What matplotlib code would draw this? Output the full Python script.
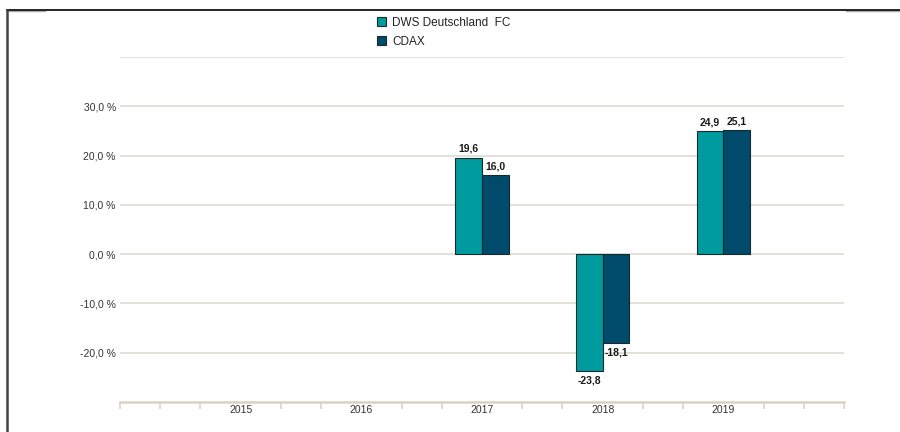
import matplotlib
matplotlib.use("Agg")
import matplotlib.pyplot as plt
import numpy as np
from matplotlib.lines import Line2D
from matplotlib import font_manager as fm

plt.rcParams['font.family'] = ['Liberation Sans', 'DejaVu Sans']

years = [2015, 2016, 2017, 2018, 2019]
fund = [np.nan, np.nan, 19.6, -23.8, 24.9]
cdax = [np.nan, np.nan, 16.0, -18.1, 25.1]
series_names = ["DWS Deutschland  FC", "CDAX"]
yticks = [-20, -10, 0, 10, 20, 30]

c_fund = "#009b9e"
c_cdax = "#004a6c"
grid_c = "#dedbd3"
axis_c = "#d8d2c4"

# find a non-narrow bold Liberation Sans file
bold_fp = None
for f in fm.fontManager.ttflist:
    fn = f.fname.lower()
    if f.name == 'Liberation Sans' and 'narrow' not in fn and 'bold' in fn and 'italic' not in fn:
        bold_fp = fm.FontProperties(fname=f.fname, size=7.5)
        break
if bold_fp is None:
    bold_fp = fm.FontProperties(family=['Liberation Sans', 'DejaVu Sans'], weight='bold', size=7.5)

fig = plt.figure(figsize=(9, 4.32), dpi=100)
ax = fig.add_axes([120/900, 1-402/432, (844-120)/900, (402-57)/432])

x = np.array(years, dtype=float)
w = 0.22
b1 = ax.bar(x - w/2, fund, w, color=c_fund, edgecolor="#1a2a2a", linewidth=0.8,
            label=series_names[0], zorder=3)
b2 = ax.bar(x + w/2, cdax, w, color=c_cdax, edgecolor="#1a2a2a", linewidth=0.8,
            label=series_names[1], zorder=3)

def fmt(v):
    return f"{v:.1f}".replace('.', ',')

for xs, vals in ((x - w/2, fund), (x + w/2, cdax)):
    for xi, v in zip(xs, vals):
        if np.isnan(v):
            continue
        if v >= 0:
            ax.annotate(fmt(v), (xi, v), xytext=(0, 3), textcoords="offset points",
                        ha="center", va="bottom", fontproperties=bold_fp, color="#1a1a1a")
        else:
            ax.annotate(fmt(v), (xi, v), xytext=(0, -3), textcoords="offset points",
                        ha="center", va="top", fontproperties=bold_fp, color="#1a1a1a")

ax.set_xlim(2014, 2020)
ax.set_ylim(-30, 40)

for g in yticks + [40]:
    ax.axhline(g, color=grid_c, linewidth=1.2, zorder=1)

ax.set_yticks(yticks)
ax.set_yticklabels([f"{t:.1f}".replace('.', ',') + " %" for t in yticks])
ax.tick_params(axis='y', length=0, pad=3, labelsize=7.5, labelcolor="#333333")

ax.set_xticks(years)
ax.set_xticklabels([str(y) for y in years])
minor = [2014 + k/3 for k in range(0, 19) if k % 3 != 0] + [2014, 2020]
ax.set_xticks(minor, minor=True)
ax.tick_params(axis='x', which='major', length=0, pad=2, labelsize=7.5, labelcolor="#333333")
ax.tick_params(axis='x', which='minor', length=5, width=1.2, color=axis_c)

for s in ['top', 'right', 'left']:
    ax.spines[s].set_visible(False)
ax.spines['bottom'].set_color(axis_c)
ax.spines['bottom'].set_linewidth(1.8)

leg = fig.legend(handles=[b1, b2], labels=series_names, loc='upper left',
                 bbox_to_anchor=(372/900, 1-12/432), frameon=False, fontsize=8.5,
                 handlelength=0.8, handleheight=0.8, handletextpad=0.5, labelspacing=0.6,
                 borderaxespad=0)
for t in leg.get_texts():
    t.set_color("#222222")

# frame lines
fig.add_artist(Line2D([846/900, 1], [1-11/432, 1-11/432], transform=fig.transFigure,
                      color="#aaaaaa", linewidth=1.0))
fig.add_artist(Line2D([7/900, 45/900], [1-11/432, 1-11/432], transform=fig.transFigure,
                      color="#aaaaaa", linewidth=1.0))
fig.add_artist(Line2D([7/900, 1], [1-10/432, 1-10/432], transform=fig.transFigure,
                      color="black", linewidth=1.2))
fig.add_artist(Line2D([7/900, 7/900], [0, 1-10/432], transform=fig.transFigure,
                      color="#444444", linewidth=1.8))

fig.savefig("out.png", dpi=100)
